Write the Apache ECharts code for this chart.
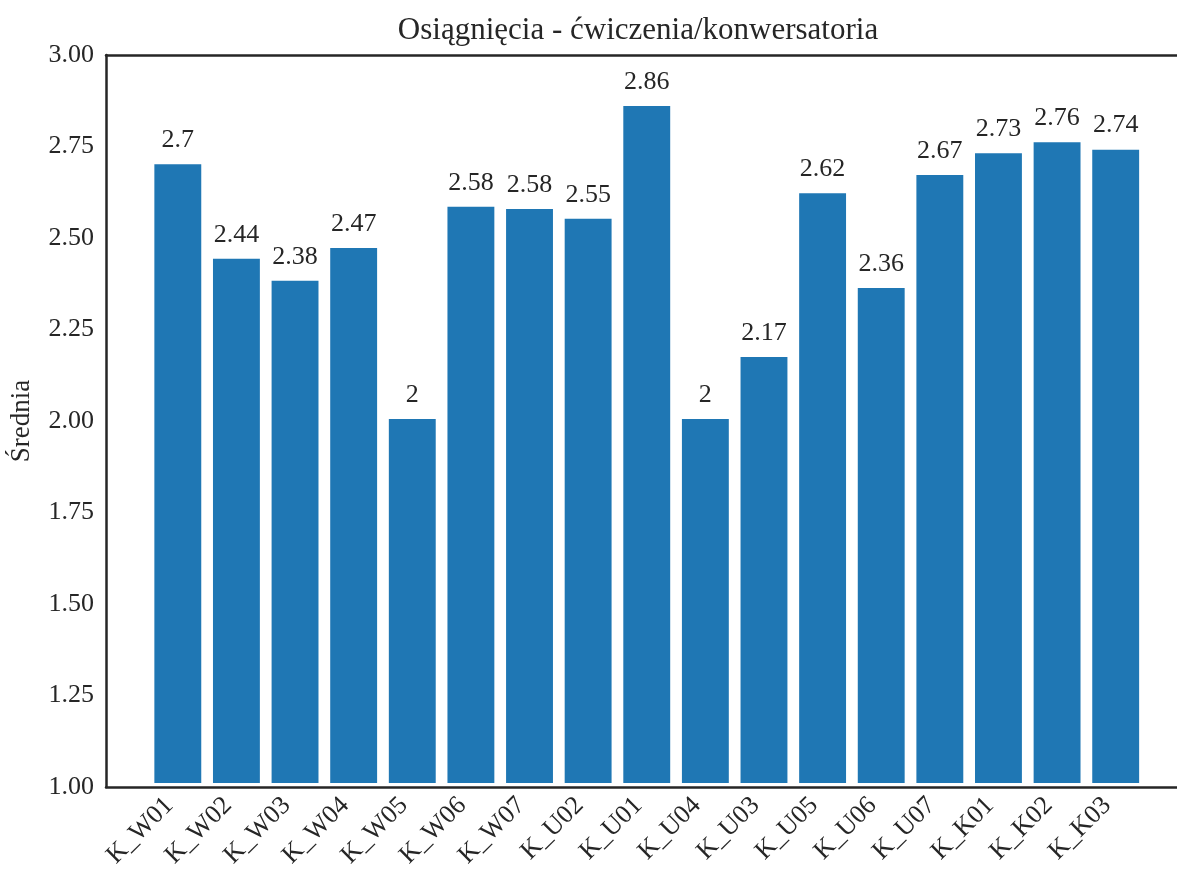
<!DOCTYPE html>
<html>
<head>
<meta charset="utf-8">
<script src="https://cdn.jsdelivr.net/npm/echarts@6/dist/echarts.min.js"></script>
<style>
  html, body { margin: 0; padding: 0; background: #fff; }
  #chart { width: 1177px; height: 871px; }
</style>
</head>
<body>
<div id="chart"></div>
<script>
// categories and mean values
const categories = ['K_W01', 'K_W02', 'K_W03', 'K_W04', 'K_W05', 'K_W06', 'K_W07', 'K_U02', 'K_U01',
  'K_U04', 'K_U03', 'K_U05', 'K_U06', 'K_U07', 'K_K01', 'K_K02', 'K_K03'];
const means = [2.7, 2.44, 2.38, 2.47, 2, 2.583, 2.577, 2.55, 2.86, 2, 2.17, 2.62, 2.36, 2.67, 2.73, 2.76, 2.74];
const yTicks = [1.0, 1.25, 1.5, 1.75, 2.0, 2.25, 2.5, 2.75, 3.0];

const FONT = '"Liberation Serif", "DejaVu Serif", serif';
const TXT = '#262626';
const spine = { show: true, lineStyle: { color: TXT, width: 2.5 } };

let chart = echarts.init(document.getElementById('chart'));
chart.setOption({
  animation: false,
  title: {
    text: 'Osiągnięcia - ćwiczenia/konwersatoria',
    left: 633, top: 10, textAlign: 'center',
    textStyle: { fontFamily: FONT, fontSize: 31, fontWeight: 'normal', color: TXT }
  },
  grid: [
    // frame of the axes (right edge runs past the picture)
    { left: 105, right: -12, top: 55, bottom: 84 },
    // area where the bars live
    { left: 148.5, right: 32, top: 55, bottom: 84 }
  ],
  xAxis: [
    { gridIndex: 0, type: 'value', min: 0, max: 1, position: 'bottom', axisLine: spine,
      axisTick: { show: false }, axisLabel: { show: false }, splitLine: { show: false } },
    {
      gridIndex: 1, type: 'category', data: categories,
      axisLine: { show: false }, axisTick: { show: false },
      axisLabel: { rotate: 45, margin: 10, padding: [0, 12, 0, 0], interval: 0, fontFamily: FONT, fontSize: 26, color: TXT }
    },
    { gridIndex: 0, type: 'value', min: 0, max: 1, position: 'top', axisLine: spine,
      axisTick: { show: false }, axisLabel: { show: false }, splitLine: { show: false } }
  ],
  yAxis: [
    {
      gridIndex: 0, type: 'value', min: yTicks[0], max: yTicks[yTicks.length - 1], interval: 0.25,
      name: 'Średnia', nameLocation: 'middle', nameGap: 71,
      nameTextStyle: { fontFamily: FONT, fontSize: 27, color: TXT },
      axisLine: spine, axisTick: { show: false }, splitLine: { show: false },
      axisLabel: { margin: 12, fontFamily: FONT, fontSize: 26, color: TXT, formatter: v => v.toFixed(2) }
    },
    { gridIndex: 1, type: 'value', min: 1, max: 3, show: false }
  ],
  series: [{
    type: 'bar',
    xAxisIndex: 1, yAxisIndex: 1,
    data: means,
    barWidth: '80%',
    itemStyle: { color: '#1f77b4' },
    label: {
      show: true, position: 'top', distance: 11,
      fontFamily: FONT, fontSize: 26, color: TXT,
      formatter: p => String(Number(p.value.toFixed(2)))
    }
  }]
});
</script>
</body>
</html>
